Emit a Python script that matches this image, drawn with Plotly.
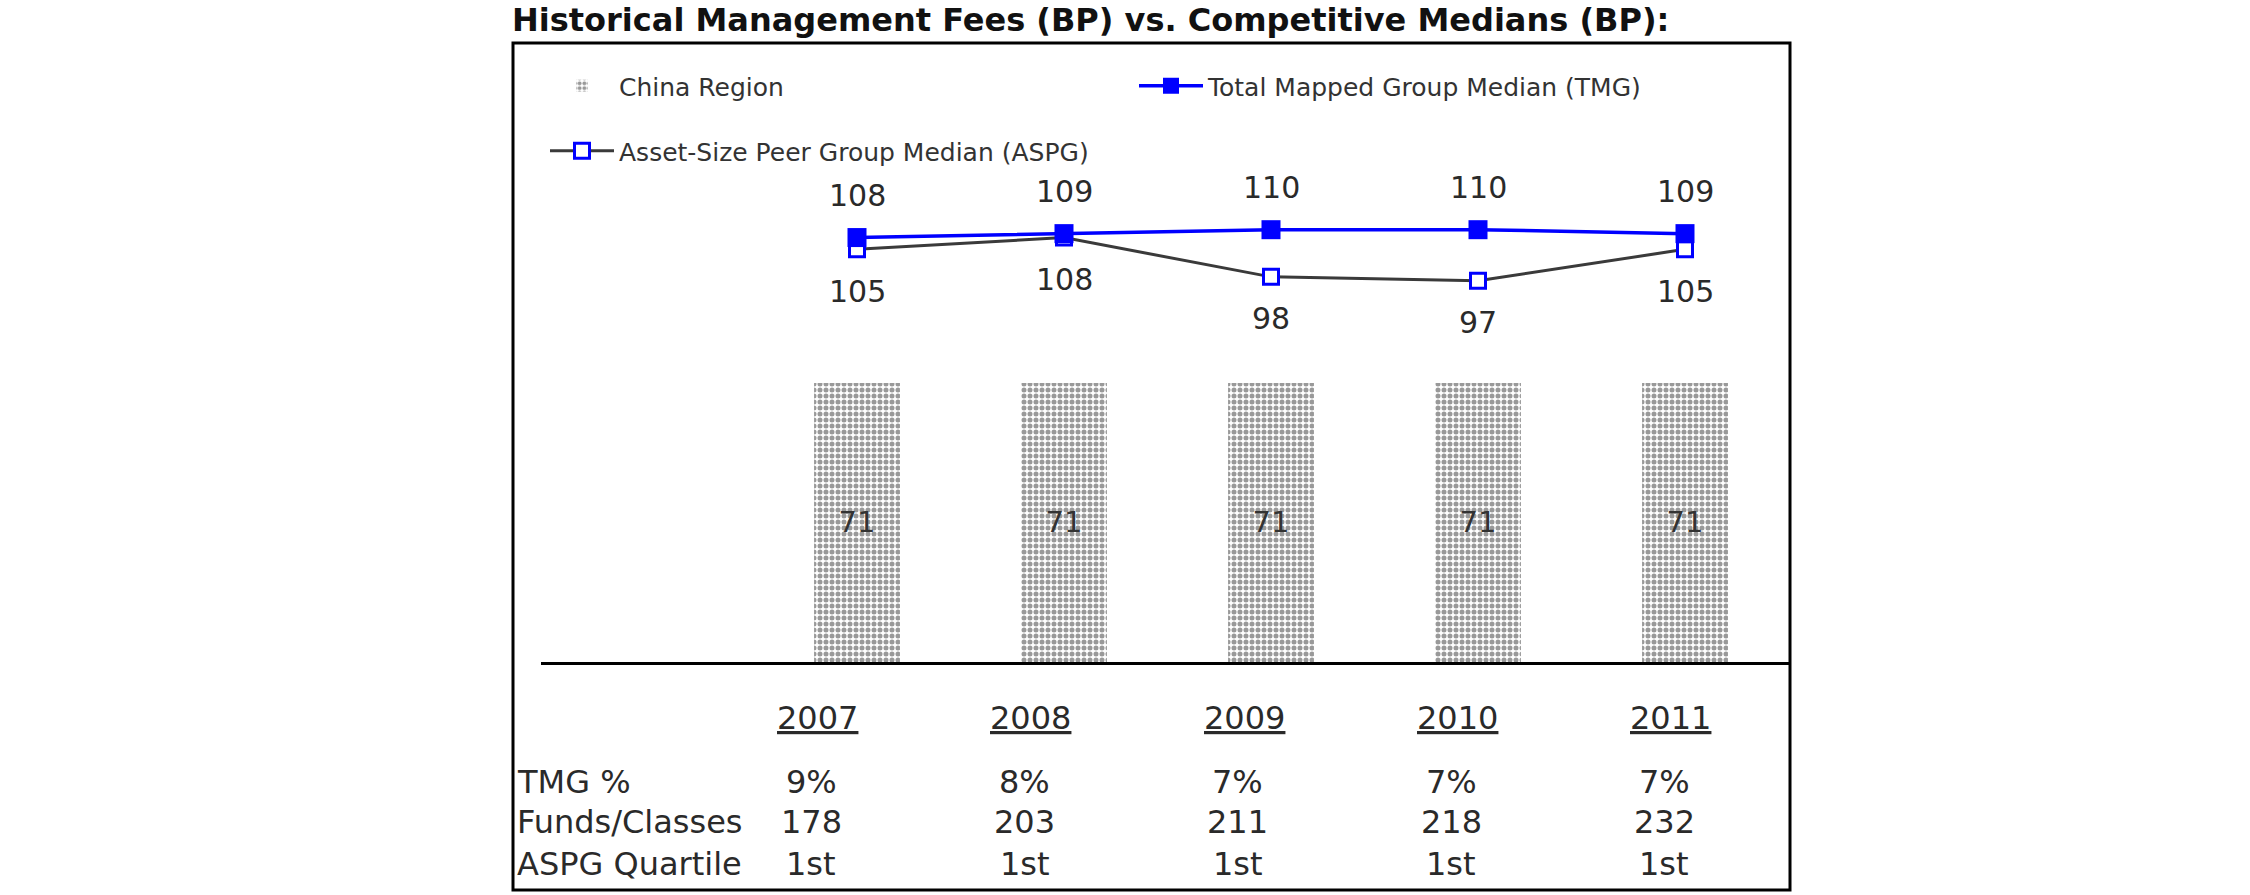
import plotly.graph_objects as go

# ---------------- data ----------------
years = ["2007", "2008", "2009", "2010", "2011"]
china_region = [71, 71, 71, 71, 71]
tmg_median = [108, 109, 110, 110, 109]
aspg_median = [105, 108, 98, 97, 105]

table_row_labels = ["TMG %", "Funds/Classes", "ASPG Quartile"]
tmg_pct = ["9%", "8%", "7%", "7%", "7%"]
funds_classes = ["178", "203", "211", "218", "232"]
aspg_quartile = ["1st", "1st", "1st", "1st", "1st"]

title_text = "Historical Management Fees (BP) vs. Competitive Medians (BP):"

# ---------------- layout geometry (pixels) ----------------
W, H = 2250, 895
L, R, T, B = 541, 1790, 45, 662          # plot area
first_cat_px, cat_step = 857, 207         # centre of first category, spacing
px_per_unit = 3.93

x_lo = (L - first_cat_px) / cat_step
x_hi = (R - first_cat_px) / cat_step
y_hi = (B - T) / px_per_unit


def paper_x(p):
    return (p - L) / (R - L)


def paper_y(p):
    return (B - p) / (B - T)


def table_col(i):
    # table columns sit slightly left of the bars and are a bit wider spaced
    return -0.19 + 1.03 * i


FONT = "Verdana, DejaVu Sans, sans-serif"
TXT = "#2a2a2a"
BLUE = "#0000FF"

fig = go.Figure()

fig.add_trace(go.Bar(
    x=years, y=china_region, name="China Region",
    width=0.415,
    marker=dict(color="white", line=dict(width=0),
                pattern=dict(shape=".", fgcolor="#333333", bgcolor="white",
                             size=6, solidity=0.55)),
    text=[str(v) for v in china_region], textposition="inside",
    insidetextanchor="middle", textangle=0,
    textfont=dict(family=FONT, size=29, color="#333333"),
    legend="legend",
))

fig.add_trace(go.Scatter(
    x=years, y=aspg_median, name="Asset-Size Peer Group Median (ASPG)",
    mode="lines+markers",
    line=dict(color="#3a3a3a", width=3),
    marker=dict(symbol="square", size=15, color="white",
                line=dict(color=BLUE, width=3)),
    legend="legend3",
))

fig.add_trace(go.Scatter(
    x=years, y=tmg_median, name="Total Mapped Group Median (TMG)",
    mode="lines+markers",
    line=dict(color=BLUE, width=3.5),
    marker=dict(symbol="square", size=19, color=BLUE,
                line=dict(color=BLUE, width=0)),
    legend="legend2",
))

annotations = []
# value labels
for i, v in enumerate(tmg_median):
    annotations.append(dict(x=i, y=v, xref="x", yref="y", text=str(v),
                            showarrow=False, yshift=42, yanchor="middle",
                            font=dict(family=FONT, size=30, color=TXT)))
for i, v in enumerate(aspg_median):
    annotations.append(dict(x=i, y=v, xref="x", yref="y", text=str(v),
                            showarrow=False, yshift=-42, yanchor="middle",
                            font=dict(family=FONT, size=30, color=TXT)))

# table below the chart
row_px = [782, 822, 864]
for i, yr in enumerate(years):
    annotations.append(dict(x=table_col(i), y=paper_y(718), xref="x", yref="paper",
                            xanchor="center", yanchor="middle",
                            text="<u>" + yr + "</u>", showarrow=False,
                            font=dict(family=FONT, size=32, color=TXT)))
for row, vals in zip(row_px, [tmg_pct, funds_classes, aspg_quartile]):
    for i, v in enumerate(vals):
        annotations.append(dict(x=table_col(i) - 0.03, y=paper_y(row), xref="x",
                                yref="paper", xanchor="center", yanchor="middle",
                                text=v, showarrow=False,
                                font=dict(family=FONT, size=32, color=TXT)))
for row, lab in zip(row_px, table_row_labels):
    annotations.append(dict(x=paper_x(515), y=paper_y(row), xref="paper", yref="paper",
                            xanchor="left", yanchor="middle", text=lab, showarrow=False,
                            font=dict(family=FONT, size=32, color=TXT)))

legend_common = dict(xref="container", yref="container", xanchor="left",
                     yanchor="middle", bgcolor="rgba(0,0,0,0)", borderwidth=0,
                     itemwidth=64,
                     font=dict(family=FONT, size=25, color="#333333"))

fig.update_layout(
    width=W, height=H,
    margin=dict(l=L, r=W - R, t=T, b=H - B, pad=0, autoexpand=False),
    paper_bgcolor="white", plot_bgcolor="white",
    title=dict(text="<b>" + title_text + "</b>", x=512 / W, xanchor="left",
               xref="container", y=1 - 20 / H, yanchor="middle", yref="container",
               font=dict(family=FONT, size=32, color="#111111")),
    xaxis=dict(type="category", range=[x_lo, x_hi], showgrid=False,
               showticklabels=False, ticks="", zeroline=False,
               showline=True, linecolor="black", linewidth=3),
    yaxis=dict(range=[0, y_hi], visible=False, showgrid=False, zeroline=False),
    showlegend=True,
    legend=dict(x=545 / W, y=1 - 86 / H, **legend_common),
    legend2=dict(x=1134 / W, y=1 - 86 / H, **legend_common),
    legend3=dict(x=545 / W, y=1 - 151 / H, **legend_common),
    annotations=annotations,
    shapes=[dict(type="rect", xref="paper", yref="paper",
                 x0=paper_x(513), x1=paper_x(1790),
                 y0=paper_y(890), y1=paper_y(43),
                 line=dict(color="black", width=3), layer="above")],
    bargap=0.5,
)

fig.write_html("out.html")
